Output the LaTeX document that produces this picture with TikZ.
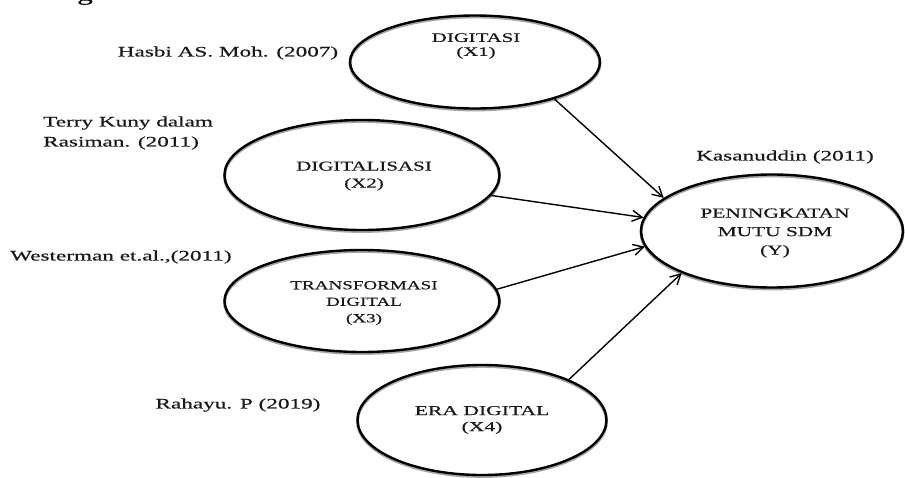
\documentclass[tikz,border=0pt]{standalone}
\usepackage{fontspec}
\setmainfont{Liberation Serif}[FakeStretch=1.6,FakeBold=0.5]
\newfontfamily\stretchA{Liberation Serif}[FakeStretch=1.55,FakeBold=0.5]
\usetikzlibrary{shapes.geometric,arrows.meta}
\begin{document}
\begin{tikzpicture}[x=1pt,y=-1pt,
  ell/.style={draw=black, line width=2.4pt, ellipse, inner sep=0pt,
    preaction={draw=black!35, line width=3pt, transform canvas={yshift=-1.4pt}}},
  lbl/.style={text=black!90, font=\fontsize{14.5}{20}\selectfont, inner sep=0pt},
  etext/.style={text=black!90, font=\fontsize{13.5}{17}\selectfont, align=center, inner sep=0pt},
  link/.style={draw=black, line width=1.4pt, -{Straight Barb[length=10pt,width=11pt,line width=1.4pt]}}
]
\useasboundingbox (0,0) rectangle (905,477);
\fill[white] (0,0) rectangle (905,477);

% ellipses
\node[ell, minimum width=250pt, minimum height=93pt] (e1) at (475,62) {};
\node[ell, minimum width=275pt, minimum height=110pt] (e2) at (362,175) {};
\node[ell, minimum width=275pt, minimum height=102pt] (e3) at (362,301) {};
\node[ell, minimum width=249pt, minimum height=110pt] (e4) at (482,420) {};
\node[ell, minimum width=262pt, minimum height=113pt] (ey) at (772,231) {};

% texts inside ellipses
\node[etext, font=\fontsize{13}{14}\selectfont] (t1) at (476,46) {DIGITASI\\(X1)};
\node[etext] (t2) at (364,176) {\stretchA DIGITALISASI\\\stretchA (X2)};
\node[etext, font=\fontsize{12.3}{16.5}\selectfont] (t3) at (364,303) {\stretchA TRANSFORMASI\\\stretchA DIGITAL\\\stretchA (X3)};
\node[etext, font=\fontsize{13.5}{16}\selectfont] (t4) at (482,420) {ERA DIGITAL\\(X4)};
\node[etext, font=\fontsize{13.8}{18.5}\selectfont] (ty) at (775,233) {\stretchA PENINGKATAN\\\stretchA MUTU SDM\\\stretchA (Y)};

% source labels
\node[lbl] (s1) at (228,53) {Hasbi AS. Moh. (2007)};
\node[lbl, anchor=west, align=left] (s2) at (43,133) {Terry Kuny dalam\\Rasiman. (2011)};
\node[lbl, anchor=west] (s3) at (10,257) {Westerman et.al.,(2011)};
\node[lbl] (s4) at (238,405) {Rahayu. P (2019)};
\node[lbl] (sy) at (785,157) {Kasanuddin (2011)};

% clipped fragment at top
\node[text=black, font=\fontsize{20}{20}\selectfont, inner sep=0pt, anchor=base] (frag) at (85,0.5) {g};

% connectors
\draw[link] (e1.-25) -- (ey.163);
\draw[link] (e2.-9) -- (ey.174);
\draw[link] (e3.5.5) -- (ey.-173);
\draw[link] (e4.25.5) -- (ey.-155);
\end{tikzpicture}
\end{document}
